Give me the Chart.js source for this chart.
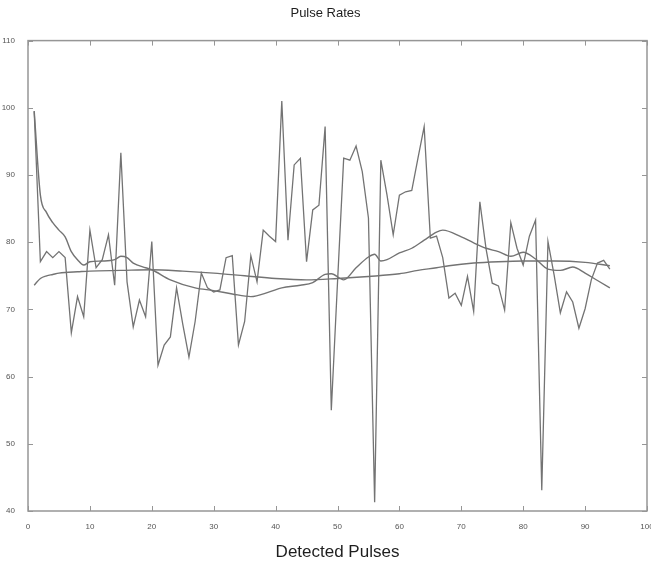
<!DOCTYPE html>
<html>
<head>
<meta charset="utf-8">
<title>Pulse Rates</title>
<script src="https://cdn.jsdelivr.net/npm/chart.js@4.4.1/dist/chart.umd.min.js"></script>
<style>
  html, body { margin: 0; padding: 0; background: #fff; }
</style>
</head>
<body>
<canvas id="pulseChart" width="651" height="563"></canvas>
<script>
// detected pulse rate, one value per pulse (pulse 1..94)
const pulseRate = [
  99.5, 77.1, 78.6, 77.7, 78.6, 77.7, 66.5, 71.9, 68.9, 81.8,
  76.2, 77.4, 81.1, 73.6, 93.3, 74.1, 67.4, 71.4, 68.9, 80.1,
  61.7, 64.7, 65.9, 73.2, 67.8, 62.9, 68.2, 75.4, 73.2, 72.6,
  72.9, 77.7, 78.0, 64.7, 68.2, 78.0, 74.1, 81.8, 80.9, 80.1,
  101.0, 80.3, 91.5, 92.5, 77.1, 84.8, 85.5, 97.2, 55.0, 74.0,
  92.5, 92.2, 94.3, 90.5, 83.6, 41.3, 92.2, 87.0, 81.1, 87.0,
  87.5, 87.7, 92.5, 97.2, 80.6, 80.9, 77.7, 71.7, 72.4, 70.6,
  74.9, 69.7, 86.0, 79.0, 73.9, 73.5, 69.9, 82.9, 79.1, 76.6,
  80.9, 83.3, 43.1, 80.1, 75.1, 69.5, 72.6, 71.1, 67.2, 70.1,
  74.4, 76.9, 77.3, 76.0
];

// short running average
const avgX = [1, 2, 3, 4, 5, 6, 7, 8, 9, 10, 12, 14, 15, 16, 17, 19, 20, 23, 27, 30,
  33, 36, 39, 41, 44, 46, 48, 49, 51, 53, 55, 56, 57, 58, 60, 62, 64, 66, 67, 70,
  72, 74, 76, 78, 80, 82, 84, 86, 88, 90, 92, 94];
const avgRate = [99.5, 87.0, 84.4, 82.9, 81.8, 80.8, 78.6, 77.4, 76.6, 77.1, 77.2, 77.4, 77.9, 77.7, 76.9, 76.2, 75.9, 74.4, 73.2, 72.8,
  72.3, 71.9, 72.6, 73.2, 73.6, 74.0, 75.2, 75.3, 74.4, 76.2, 77.8, 78.2, 77.2, 77.4, 78.4, 79.1, 80.3, 81.5, 81.8, 80.8,
  79.9, 79.1, 78.6, 77.9, 78.5, 77.5, 76.0, 75.8, 76.3, 75.4, 74.3, 73.2];

// long-term trend
const trendX = [1, 2, 3, 4, 5, 6, 8, 10, 15, 20, 25, 30, 35, 40, 45, 50, 55, 60, 63, 66, 68, 72, 76, 80, 85, 90, 94];
const trendRate = [73.6, 74.6, 75.0, 75.2, 75.4, 75.5, 75.6, 75.7, 75.8, 75.9, 75.7, 75.4, 75.0, 74.6, 74.4, 74.6, 74.9, 75.3, 75.8, 76.2, 76.5, 76.9, 77.1, 77.2, 77.2, 77.0, 76.5];

const xTicks = [0, 10, 20, 30, 40, 50, 60, 70, 80, 90, 100];
const yTicks = [40, 50, 60, 70, 80, 90, 100, 110];

const toPoints = (xs, ys) => xs.map((x, i) => ({ x: x, y: ys[i] }));

const lineGray = '#737373';
const boxGray = '#969696';

// matlab style box with inward tick marks
const boxTicks = {
  id: 'boxTicks',
  afterDatasetsDraw(chart) {
    const { ctx, chartArea: a, scales } = chart;
    ctx.save();
    ctx.strokeStyle = boxGray;
    ctx.lineWidth = 1;
    ctx.beginPath();
    xTicks.forEach(v => {
      const px = Math.round(scales.x.getPixelForValue(v)) + 0.5;
      ctx.moveTo(px, a.bottom); ctx.lineTo(px, a.bottom - 5);
      ctx.moveTo(px, a.top); ctx.lineTo(px, a.top + 5);
    });
    yTicks.forEach(v => {
      const py = Math.round(scales.y.getPixelForValue(v)) + 0.5;
      ctx.moveTo(a.left, py); ctx.lineTo(a.left + 5, py);
      ctx.moveTo(a.right, py); ctx.lineTo(a.right - 5, py);
    });
    ctx.stroke();
    ctx.lineWidth = 1.5;
    ctx.strokeRect(a.left, a.top, a.right - a.left, a.bottom - a.top);
    ctx.restore();
  }
};

const tickFont = { family: "'Liberation Sans', Arial, sans-serif", size: 8 };

new Chart(document.getElementById('pulseChart'), {
  type: 'line',
  data: {
    datasets: [
      {
        label: 'Pulse rate',
        data: toPoints(pulseRate.map((_, i) => i + 1), pulseRate),
        borderColor: lineGray,
        borderWidth: 1.3,
        pointRadius: 0,
        tension: 0,
        fill: false,
      },
      {
        label: 'Running average',
        data: toPoints(avgX, avgRate),
        borderColor: lineGray,
        borderWidth: 1.4,
        pointRadius: 0,
        cubicInterpolationMode: 'monotone',
        fill: false,
      },
      {
        label: 'Trend',
        data: toPoints(trendX, trendRate),
        borderColor: lineGray,
        borderWidth: 1.4,
        pointRadius: 0,
        cubicInterpolationMode: 'monotone',
        fill: false,
      },
    ],
  },
  options: {
    responsive: false,
    animation: false,
    devicePixelRatio: 1,
    layout: { padding: 0 },
    plugins: {
      legend: { display: false },
      tooltip: { enabled: false },
      title: {
        display: true,
        text: 'Pulse Rates',
        color: '#1e1e1e',
        font: { family: "'Liberation Sans', Arial, sans-serif", size: 13, weight: 'normal' },
        padding: { top: 6, bottom: 19 },
      },
    },
    scales: {
      x: {
        type: 'linear',
        min: 0,
        max: 100,
        afterBuildTicks: scale => { scale.ticks = xTicks.map(v => ({ value: v })); },
        grid: { display: false },
        border: { display: false },
        ticks: { color: '#555', font: tickFont, padding: 3, maxRotation: 0 },
        title: {
          display: true,
          text: 'Detected Pulses',
          color: '#1e1e1e',
          font: { family: "'Liberation Sans', Arial, sans-serif", size: 17 },
          padding: { top: 0, bottom: 0 },
        },
        afterFit: scale => { scale.height = 52; scale.paddingRight = 4; },
      },
      y: {
        min: 40,
        max: 110,
        afterBuildTicks: scale => { scale.ticks = yTicks.map(v => ({ value: v })); },
        grid: { display: false },
        border: { display: false },
        ticks: { color: '#555', font: tickFont, padding: 5 },
        afterFit: scale => { scale.width = 28; },
      },
    },
  },
  plugins: [boxTicks],
});
</script>
</body>
</html>
